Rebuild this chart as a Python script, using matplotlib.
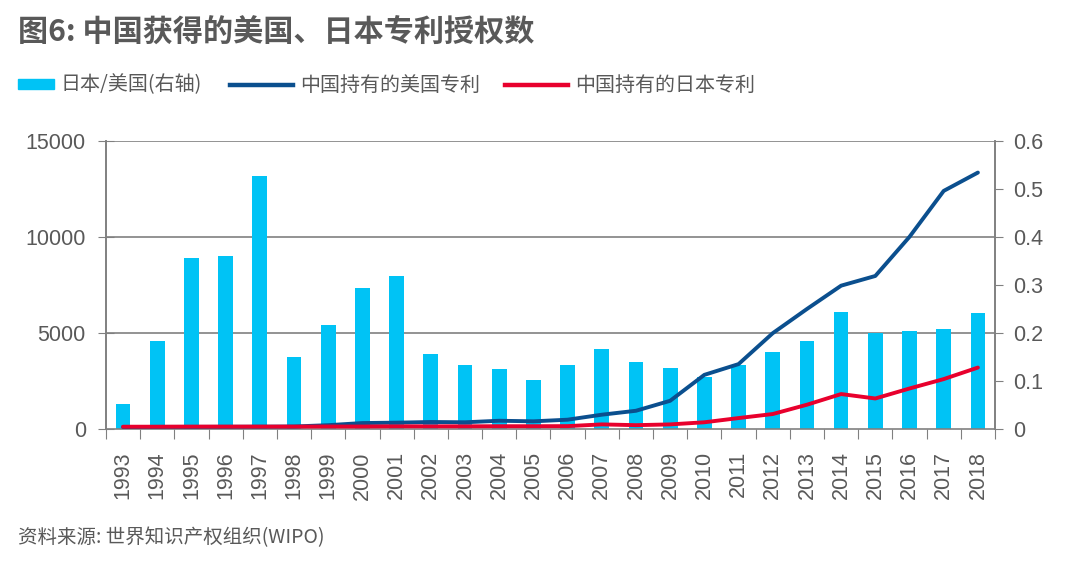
import numpy as np
import matplotlib
matplotlib.use("Agg")
import matplotlib.pyplot as plt
from matplotlib.patches import Rectangle
from matplotlib.lines import Line2D

plt.rcParams['font.family'] = ['Liberation Sans', 'Noto Sans CJK SC', 'DejaVu Sans']

years = [str(y) for y in range(1993, 2019)]
# 日本/美国 ratio (right axis)
ratio = [0.053, 0.184, 0.356, 0.360, 0.526, 0.150, 0.217, 0.294, 0.319, 0.156,
         0.133, 0.124, 0.103, 0.134, 0.167, 0.140, 0.128, 0.108, 0.134, 0.161,
         0.184, 0.244, 0.200, 0.205, 0.209, 0.242]
# 中国持有的美国专利 (left axis)
us_patents = [100, 110, 110, 115, 120, 130, 200, 310, 330, 365,
              350, 430, 400, 485, 745, 950, 1470, 2820, 3380, 4990,
              6250, 7465, 7970, 10010, 12400, 13355]
# 中国持有的日本专利 (left axis)
jp_patents = [120, 120, 125, 125, 125, 125, 130, 130, 140, 140,
              140, 145, 145, 150, 240, 200, 240, 350, 570, 780,
              1265, 1820, 1590, 2110, 2600, 3200]

grey = '#595959'
axis_grey = '#808080'
bar_color = '#00C3F5'
us_color = '#0B4F8E'
jp_color = '#E8002D'
W, H = 1080, 574

fig = plt.figure(figsize=(10.8, 5.74), dpi=100)
ax = fig.add_axes([0.0981, 0.2526, 0.8232, 0.5018])
axl = ax.twinx()
x = np.arange(len(years))

# bars on the right-hand axis
ax.bar(x, ratio, width=0.43, color=bar_color, zorder=2)
ax.set_ylim(0, 0.6)
ax.set_xlim(-0.5, len(years) - 0.5)
ax.yaxis.tick_right()
ax.set_yticks(np.arange(0, 0.61, 0.1))
ax.set_yticklabels(['0', '0.1', '0.2', '0.3', '0.4', '0.5', '0.6'])
ax.tick_params(axis='y', direction='out', length=6, color=axis_grey,
               labelsize=15.5, labelcolor=grey, pad=7)
for v in [0.2, 0.4, 0.6]:
    ax.axhline(v, color=axis_grey, lw=1.2, zorder=1)

ax.set_xticks(np.arange(-0.5, len(years), 1.0))
ax.set_xticklabels([])
ax.set_xticks(x, minor=True)
ax.set_xticklabels(years, minor=True, rotation=90)
ax.tick_params(axis='x', which='major', direction='out', length=7, color=axis_grey)
ax.tick_params(axis='x', which='minor', length=0, labelsize=15.5, labelcolor=grey, pad=16)

for s in ['left', 'right', 'bottom']:
    ax.spines[s].set_color(axis_grey)
    ax.spines[s].set_linewidth(1.2)
ax.spines['top'].set_visible(False)

# lines on the left-hand axis
axl.yaxis.tick_left()
axl.plot(x, us_patents, color=us_color, lw=2.8, solid_capstyle='round', zorder=3)
axl.plot(x, jp_patents, color=jp_color, lw=2.8, solid_capstyle='round', zorder=4)
axl.set_ylim(0, 15000)
axl.set_yticks([0, 5000, 10000, 15000])
axl.tick_params(axis='y', direction='inout', length=11, color=axis_grey,
                labelsize=15.5, labelcolor=grey, pad=9)
for s in ['top', 'bottom']:
    axl.spines[s].set_visible(False)
for s in ['left', 'right']:
    axl.spines[s].set_color(axis_grey)
    axl.spines[s].set_linewidth(1.2)

fig.text(18 / W, 1 - 33 / H, '图6: 中国获得的美国、日本专利授权数', fontsize=21.7,
         fontweight='bold', color=grey, family=['Noto Sans CJK SC'], va='center')

# legend row
ly = 1 - 85 / H
fig.patches.append(Rectangle((18 / W, 1 - 89 / H), 36 / W, 10 / H,
                             color=bar_color, transform=fig.transFigure))
fig.lines.append(Line2D([230 / W, 293 / W], [ly, ly], color=us_color, lw=3.2,
                        transform=fig.transFigure))
fig.lines.append(Line2D([505 / W, 568 / W], [ly, ly], color=jp_color, lw=3.2,
                        transform=fig.transFigure))
legend_font = dict(fontsize=14.4, color=grey, family=['Noto Sans CJK SC'], va='center')
fig.text(61 / W, ly, '日本/美国(右轴)', **legend_font)
fig.text(300 / W, ly, '中国持有的美国专利', **legend_font)
fig.text(575 / W, ly, '中国持有的日本专利', **legend_font)

fig.text(18 / W, 1 - 538 / H, '资料来源: 世界知识产权组织(WIPO)', fontsize=14,
         color=grey, family=['Noto Sans CJK SC'], va='center', style='italic')

fig.savefig('out.png', dpi=100)
